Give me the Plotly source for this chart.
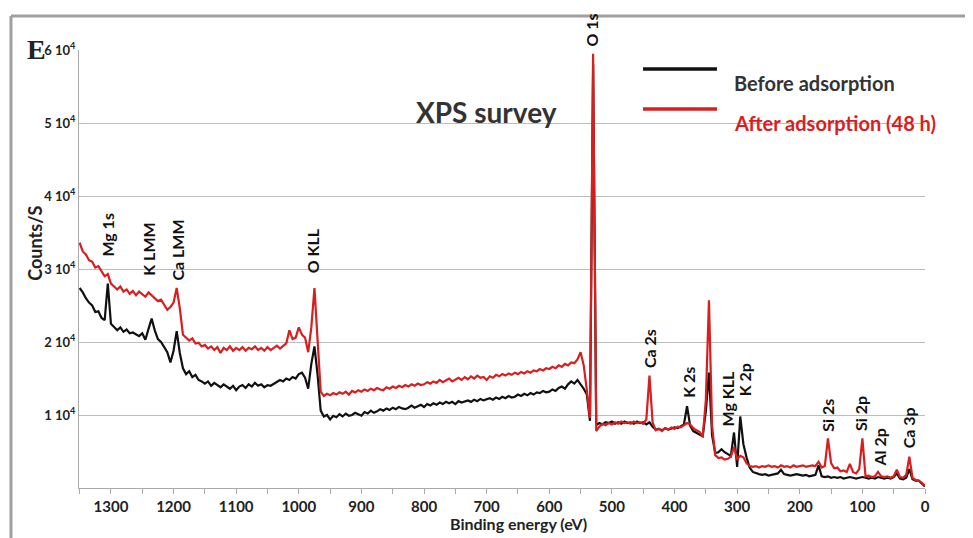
import plotly.graph_objects as go

# Binding energy grid (eV), 10 points per row
energy = [
    1350, 1345, 1340, 1335, 1330, 1325, 1320, 1315, 1310, 1305,
    1300, 1295, 1290, 1285, 1280, 1275, 1270, 1265, 1260, 1255,
    1250, 1245, 1240, 1235, 1230, 1225, 1220, 1215, 1210, 1205,
    1200, 1195, 1190, 1185, 1180, 1175, 1170, 1165, 1160, 1155,
    1150, 1145, 1140, 1135, 1130, 1125, 1120, 1115, 1110, 1105,
    1100, 1095, 1090, 1085, 1080, 1075, 1070, 1065, 1060, 1055,
    1050, 1045, 1040, 1035, 1030, 1025, 1020, 1015, 1010, 1005,
    1000, 995, 990, 985, 980, 975, 970, 965, 960, 955,
    950, 945, 940, 935, 930, 925, 920, 915, 910, 905,
    900, 895, 890, 885, 880, 875, 870, 865, 860, 855,
    850, 845, 840, 835, 830, 825, 820, 815, 810, 805,
    800, 795, 790, 785, 780, 775, 770, 765, 760, 755,
    750, 745, 740, 735, 730, 725, 720, 715, 710, 705,
    700, 695, 690, 685, 680, 675, 670, 665, 660, 655,
    650, 645, 640, 635, 630, 625, 620, 615, 610, 605,
    600, 595, 590, 585, 580, 575, 570, 565, 560, 555,
    550, 545, 540, 535, 530, 525, 520, 515, 510, 505,
    500, 495, 490, 485, 480, 475, 470, 465, 460, 455,
    450, 445, 440, 435, 430, 425, 420, 415, 410, 405,
    400, 395, 390, 385, 380, 375, 370, 365, 360, 355,
    350, 345, 340, 335, 330, 325, 320, 315, 310, 305,
    300, 295, 290, 285, 280, 275, 270, 265, 260, 255,
    250, 245, 240, 235, 230, 225, 220, 215, 210, 205,
    200, 195, 190, 185, 180, 175, 170, 165, 160, 155,
    150, 145, 140, 135, 130, 125, 120, 115, 110, 105,
    100, 95, 90, 85, 80, 75, 70, 65, 60, 55,
    50, 45, 40, 35, 30, 25, 20, 15, 10, 5,
    0,
]

# Counts/S in thousands, before adsorption
before_k = [
    27.4, 26.8, 26.0, 25.4, 25.0, 24.1, 24.2, 23.3, 23.0, 28.0,
    22.5, 22.0, 21.6, 22.0, 21.4, 21.7, 21.2, 21.3, 21.0, 20.8,
    21.2, 20.3, 21.8, 23.2, 21.6, 20.4, 20.0, 19.2, 18.6, 17.2,
    18.8, 21.5, 18.5, 16.4, 15.6, 16.0, 15.2, 15.5, 14.8, 14.6,
    14.3, 14.6, 14.0, 14.4, 14.1, 13.8, 14.2, 13.9, 13.6, 14.0,
    13.4, 13.9, 14.1, 13.7, 14.2, 13.9, 14.4, 14.0, 14.2, 13.8,
    14.1, 14.0, 14.3, 14.5, 14.8, 14.6, 15.0, 14.8, 15.2, 15.0,
    15.6, 15.8, 15.1, 13.6, 17.0, 19.4, 15.5, 10.6, 9.8, 10.0,
    9.4, 9.9, 9.7, 10.1, 9.8, 10.2, 9.9, 10.0, 10.3, 10.1,
    9.9, 10.4, 10.2, 10.6, 10.3, 10.5, 10.8, 10.6, 10.9, 10.7,
    11.0, 10.8, 11.1, 10.9, 10.8, 11.0, 11.3, 11.0, 11.2, 11.4,
    11.1, 11.5, 11.3, 11.6, 11.4, 11.7, 11.5, 11.8, 11.6, 11.8,
    11.5, 11.9, 11.7, 11.9, 12.0, 11.8, 12.1, 11.9, 12.2, 12.0,
    12.1, 12.3, 12.1, 12.4, 12.2, 12.5, 12.3, 12.6, 12.4, 12.5,
    12.8, 12.6, 12.9, 12.7, 13.0, 12.8, 13.1, 13.0, 13.3, 13.1,
    13.2, 13.5, 13.3, 13.7, 13.9, 13.6, 14.2, 14.6, 14.3, 14.8,
    14.2, 13.6, 12.8, 9.2, 58.0, 8.6, 8.9, 8.7, 9.0, 8.9,
    9.1, 8.8, 9.0, 8.8, 9.1, 8.9, 9.0, 8.8, 9.1, 8.9,
    9.0, 8.7, 9.0, 8.4, 8.0, 8.1, 7.9, 8.2, 8.0, 8.1,
    8.3, 8.2, 8.4, 8.7, 11.2, 8.5, 7.8, 7.6, 7.3, 7.1,
    10.5, 15.8, 7.2, 4.8, 4.9, 5.3, 4.9, 4.6, 4.4, 7.6,
    2.9, 9.8, 6.0, 4.2, 2.8, 2.2, 2.0, 1.9, 1.8, 1.9,
    1.7, 1.8, 1.9, 2.0, 2.5, 1.9, 1.8, 1.7, 1.8, 1.9,
    1.8, 1.7, 1.8, 1.6, 1.7, 1.8, 3.1, 1.6, 1.5, 1.6,
    1.4, 1.5, 1.4, 1.5, 1.3, 1.4, 1.5, 1.4, 1.3, 1.4,
    1.5, 1.4, 1.3, 1.4, 1.3, 1.5, 1.4, 1.3, 1.4, 1.3,
    1.5, 2.0, 1.3, 1.2, 1.4, 2.6, 1.2, 1.0, 1.0, 0.6,
    0.2,
]

# Counts/S in thousands, after adsorption (48 h)
after_k = [
    33.6, 32.4, 32.0, 31.2, 31.0, 30.2, 30.4, 29.6, 29.0, 29.3,
    28.0, 27.6, 27.2, 27.6, 26.9, 27.2, 26.6, 27.0, 26.4, 26.9,
    26.5, 26.2, 26.8, 26.4, 26.0, 25.6, 25.8, 25.0, 24.4, 24.8,
    25.4, 27.4, 24.6, 21.0, 20.6, 20.2, 20.5, 19.8, 19.9, 19.4,
    19.6, 19.1, 19.4, 18.9, 19.3, 18.5, 19.2, 18.9, 19.4, 18.8,
    19.2, 18.9, 19.3, 18.8, 19.2, 19.0, 19.4, 18.9, 19.2, 18.8,
    19.3, 18.9, 19.2, 19.5, 19.1, 19.4, 19.8, 21.6, 20.4, 20.6,
    22.0, 21.0, 20.6, 18.6, 22.0, 27.4, 20.6, 13.2, 12.6, 12.9,
    12.7, 13.0, 12.8, 13.1, 12.9, 13.2, 12.8, 13.3, 13.1, 13.4,
    13.2, 13.5, 13.3, 13.6, 13.4, 13.7, 13.5, 13.4, 13.8, 13.6,
    13.9, 13.7, 14.0, 13.8, 14.1, 13.9, 14.2, 14.0, 14.3, 14.1,
    14.2, 14.5, 14.3, 14.6, 14.4, 14.8, 14.5, 14.7, 15.0, 14.6,
    14.9, 15.1, 14.8, 15.2, 14.9, 15.3, 15.0, 15.4, 15.1, 15.2,
    14.8, 15.3, 15.1, 15.5, 15.3, 15.6, 15.4, 15.7, 15.5, 15.8,
    15.6, 15.9, 15.7, 16.0, 15.8, 16.1, 16.0, 16.3, 16.1, 16.4,
    16.3, 16.6, 16.4, 16.8, 16.6, 17.0, 16.8, 17.2, 17.1, 17.6,
    18.6, 16.8, 13.4, 9.6, 59.5, 7.8, 8.4, 8.8, 8.6, 8.9,
    8.7, 9.0, 8.8, 9.1, 8.9, 9.0, 8.8, 9.1, 8.9, 9.0,
    8.8, 9.4, 15.4, 9.0, 7.9, 8.1, 7.8, 8.2, 8.0, 8.3,
    8.1, 8.4, 8.3, 8.6, 8.9, 8.7, 8.2, 7.9, 7.7, 7.0,
    12.0, 25.7, 8.5, 4.5, 4.1, 4.2, 3.9, 4.0, 4.3, 5.6,
    4.0, 4.4, 4.2, 3.4, 3.0, 2.9, 3.0, 2.8, 3.0, 2.9,
    3.1, 2.9, 3.0, 2.8, 3.1, 2.9, 3.0, 2.8, 3.1, 2.9,
    3.0, 3.1, 2.9, 3.0, 3.1, 3.0, 3.6, 2.8, 3.0, 6.8,
    3.4, 2.7, 2.8, 2.3, 2.4, 2.2, 3.3, 2.2, 2.0, 2.6,
    6.8, 1.6, 1.7, 1.5, 1.6, 2.2, 1.6, 1.5, 1.6, 1.4,
    1.6, 2.5, 1.5, 1.4, 1.8, 4.3, 1.4, 1.1, 1.0, 0.7,
    0.3,
]

# Peak labels: text, energy (eV), label base (thousands of counts)
peak_names = ["Mg 1s", "K LMM", "Ca LMM", "O KLL", "Ca 2s", "K 2s",
              "Mg KLL", "K 2p", "Si 2s", "Si 2p", "Al 2p", "Ca 3p"]
peak_energy = [1305, 1240, 1193, 979, 441, 379, 315, 288, 155, 102, 73, 26]
peak_label_base = [31.4, 28.8, 28.2, 29.2, 16.2, 12.1, 8.2, 12.3, 7.5, 7.5, 2.7, 5.2]
# O 1s label sits above the top of the axis range
top_peak_name = "O 1s"
top_peak_energy = 532

y_tickvals = [10, 20, 30, 40, 50, 60]
y_ticktext = ["1 10<sup>4</sup>", "2 10<sup>4</sup>", "3 10<sup>4</sup>",
              "4 10<sup>4</sup>", "5 10<sup>4</sup>", "6 10<sup>4</sup>"]
x_tickvals = [1300, 1200, 1100, 1000, 900, 800, 700, 600, 500, 400, 300, 200, 100, 0]

assert len(energy) == len(before_k) == len(after_k)

FONT = "Lato"
RED = "#d81e1e"

fig = go.Figure()
fig.add_trace(go.Scatter(x=energy, y=before_k, mode="lines", name="Before adsorption",
                         line=dict(color="#111111", width=2.2)))
fig.add_trace(go.Scatter(x=energy, y=after_k, mode="lines", name="After adsorption (48 h)",
                         line=dict(color=RED, width=2.2)))

label_font = dict(family=FONT, size=16, color="#111111", weight="bold")
annotations = []
for name, e, b in zip(peak_names, peak_energy, peak_label_base):
    annotations.append(dict(x=e, y=b, xref="x", yref="y", text=name, textangle=-90,
                            showarrow=False, xanchor="center", yanchor="bottom",
                            font=label_font))
annotations.append(dict(x=top_peak_energy, y=1.004, xref="x", yref="paper", text=top_peak_name,
                        textangle=-90, showarrow=False, xanchor="center", yanchor="bottom",
                        font=label_font))

annotations += [
    dict(x=0.482, y=0.902, xref="paper", yref="paper", text="XPS survey", showarrow=False,
         font=dict(family=FONT, size=28, color="#333333", weight="bold")),
    dict(x=0.7719, y=0.9566, xref="paper", yref="paper", text="Before adsorption",
         showarrow=False, xanchor="left",
         font=dict(family=FONT, size=20, color="#333333", weight="bold")),
    dict(x=0.7719, y=0.8653, xref="paper", yref="paper", text="After adsorption (48 h)",
         showarrow=False, xanchor="left",
         font=dict(family=FONT, size=20, color=RED, weight="bold")),
    dict(x=-0.0674, y=0.56, xref="paper", yref="paper", text="Counts/S", textangle=-90,
         showarrow=False, font=dict(family=FONT, size=18, color="#222222", weight="bold")),
    dict(x=0.520, y=-0.108, xref="paper", yref="paper", text="Binding energy (eV)",
         showarrow=False, font=dict(family=FONT, size=16, color="#222222", weight="bold")),
    dict(x=-0.0640, y=1.04, xref="paper", yref="paper", text="E", showarrow=False,
         font=dict(family="Liberation Serif", size=28, color="#222222", weight="bold")),
]

shapes = [
    dict(type="line", xref="paper", yref="paper", x0=-0.0804, x1=1.06, y0=1.0776, y1=1.0776,
         line=dict(color="#a0a0a0", width=3)),
    dict(type="line", xref="paper", yref="paper", x0=-0.0804, x1=-0.0804, y0=1.0776, y1=-0.15,
         line=dict(color="#a0a0a0", width=3)),
    dict(type="line", xref="paper", yref="paper", x0=0.6667, x1=0.7541, y0=0.9566, y1=0.9566,
         line=dict(color="#111111", width=3.5)),
    dict(type="line", xref="paper", yref="paper", x0=0.6667, x1=0.7541, y0=0.8653, y1=0.8653,
         line=dict(color=RED, width=3.5)),
]

# The page body has an 8px margin, so the figure is shrunk and margins shifted by 8px
fig.update_layout(
    width=965, height=530,
    margin=dict(l=71, r=48, t=42, b=50),
    paper_bgcolor="white", plot_bgcolor="white",
    showlegend=False,
    annotations=annotations,
    shapes=shapes,
    font=dict(family=FONT, color="#222222"),
)
fig.update_xaxes(
    range=[1351, 0], tickvals=x_tickvals, showgrid=False, zeroline=False,
    showline=True, linecolor="#aaaaaa", linewidth=1,
    ticks="outside", ticklen=5, tickcolor="#aaaaaa",
    minor=dict(dtick=50, tick0=0, ticks="outside", ticklen=5, tickcolor="#aaaaaa"),
    tickfont=dict(family=FONT, size=15, color="#222222", weight="bold"),
)
fig.update_yaxes(
    range=[0, 60], tickvals=y_tickvals, ticktext=y_ticktext,
    showgrid=True, gridcolor="#bdbdbd", gridwidth=1, zeroline=False,
    showline=True, linecolor="#aaaaaa", linewidth=1, ticks="",
    tickfont=dict(family=FONT, size=13, color="#222222", weight="bold"),
)

fig.write_html("out.html")
